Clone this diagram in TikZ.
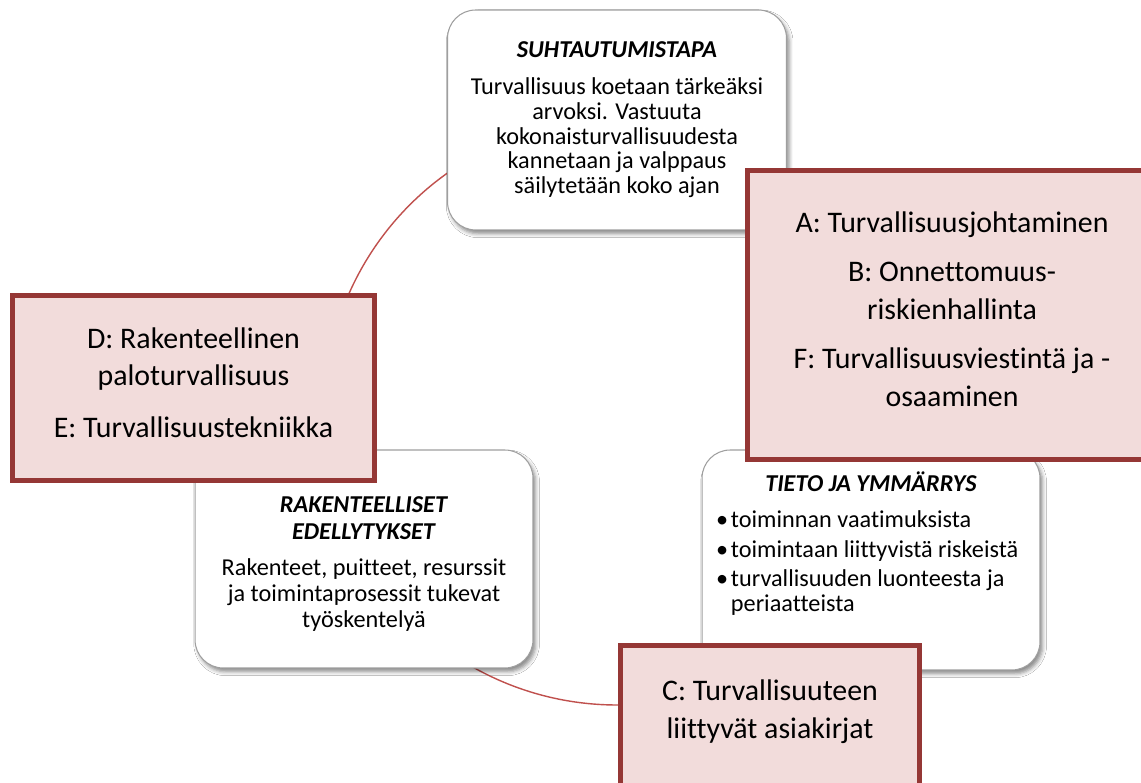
\documentclass[tikz,border=0pt]{standalone}
\usepackage{fontspec}
\setmainfont{Carlito}[Ligatures={NoCommon,NoRequired,NoContextual}, Contextuals=NoAlternate]
\usetikzlibrary{shadows.blur}
\definecolor{pinkfill}{HTML}{F2DCDB}
\definecolor{pinkline}{HTML}{953735}
\definecolor{arcred}{HTML}{C0504D}
\begin{document}
\begin{tikzpicture}[%
      x=0.02cm, y=0.02cm,
      whitebox/.style={draw=gray!75, line width=0.6pt, fill=white, rounded corners=16pt,
        blur shadow={shadow xshift=1.5pt, shadow yshift=-2.2pt, shadow blur radius=2.2pt, shadow opacity=45},
        minimum width=6.76cm, minimum height=4.36cm, align=center,
        font=\fontsize{13.8}{14.6}\selectfont},
      pinkbox/.style={draw=pinkline, fill=pinkfill, line width=2.7pt},
      pinktext/.style={align=center, font=\fontsize{17}{21.3}\selectfont},
      cyclearc/.style={color=arcred, line width=0.8pt},
      ]
      \useasboundingbox (0,0) rectangle (1141,783);
      \clip (0,0) rectangle (1141,783);
      \fill [white] (0,0) rectangle (1141,783);

      % cycle behind the boxes
      \coordinate (ctr) at (617,371);
      \draw [cyclearc] (ctr) ++(124:293) arc [start angle=124, end angle=165, radius=293];
      \draw [cyclearc] (ctr) ++(238:293) arc [start angle=238, end angle=290, radius=293];

      % white boxes
      \node [whitebox, minimum width=6.78cm, minimum height=4.4cm,
             font=\fontsize{13.8}{14.2}\selectfont] (attitude) at (617,663)
        {\textbf{\textit{SUHTAUTUMISTAPA}}\\[6.5pt]
         Turvallisuus koetaan tärkeäksi\\ arvoksi. Vastuuta\\ kokonaisturvallisuudesta\\
         kannetaan ja valppaus\\ säilytetään koko ajan};
      \node [whitebox] (structure) at (364,224)
        {\rule{0pt}{14.5pt}\textbf{\textit{RAKENTEELLISET}}\\[1pt] \textbf{\textit{EDELLYTYKSET}}\\[6pt]
         Rakenteet, puitteet, resurssit\\ ja toimintaprosessit tukevat\\ työskentelyä};
      \node [whitebox, align=flush left, text width=6.2cm, minimum height=4.4cm] (knowledge) at (871,223)
        {\parindent=0pt
         {\centering\textbf{\textit{TIETO JA YMMÄRRYS}}\par}
         \vspace{6pt}
         \makebox[8.5pt][l]{•}toiminnan vaatimuksista\par\vspace{2pt}
         \makebox[8.5pt][l]{•}toimintaan liittyvistä riskeistä\par\vspace{2pt}
         \makebox[8.5pt][l]{•}turvallisuuden luonteesta ja\\ \hspace*{8.5pt}periaatteista\par
         \vspace{6pt}\rule{0pt}{0pt}};

      % pink boxes on top
      \node [pinkbox, minimum width=8.18cm, minimum height=5.78cm] (abfbox) at (952,468) {};
      \node [pinktext] (abftext) at (952,474)
        {A: Turvallisuusjohtaminen\\[7pt] B: Onnettomuus-\\ riskienhallinta\\[7pt]
         F: Turvallisuusviestintä ja -\\ osaaminen};
      \node [pinkbox, minimum width=7.24cm, minimum height=3.7cm] (debox) at (193.5,395) {};
      \node [pinktext] (detext) at (193.5,400.5)
        {D: Rakenteellinen\\ paloturvallisuus\\[8pt] E: Turvallisuustekniikka};
      \node [pinkbox, minimum width=5.98cm, minimum height=4cm] (cbox) at (770,37.5) {};
      \node [pinktext] (ctext) at (770,71.5)
        {C: Turvallisuuteen\\ liittyvät asiakirjat};
\end{tikzpicture}
\end{document}
